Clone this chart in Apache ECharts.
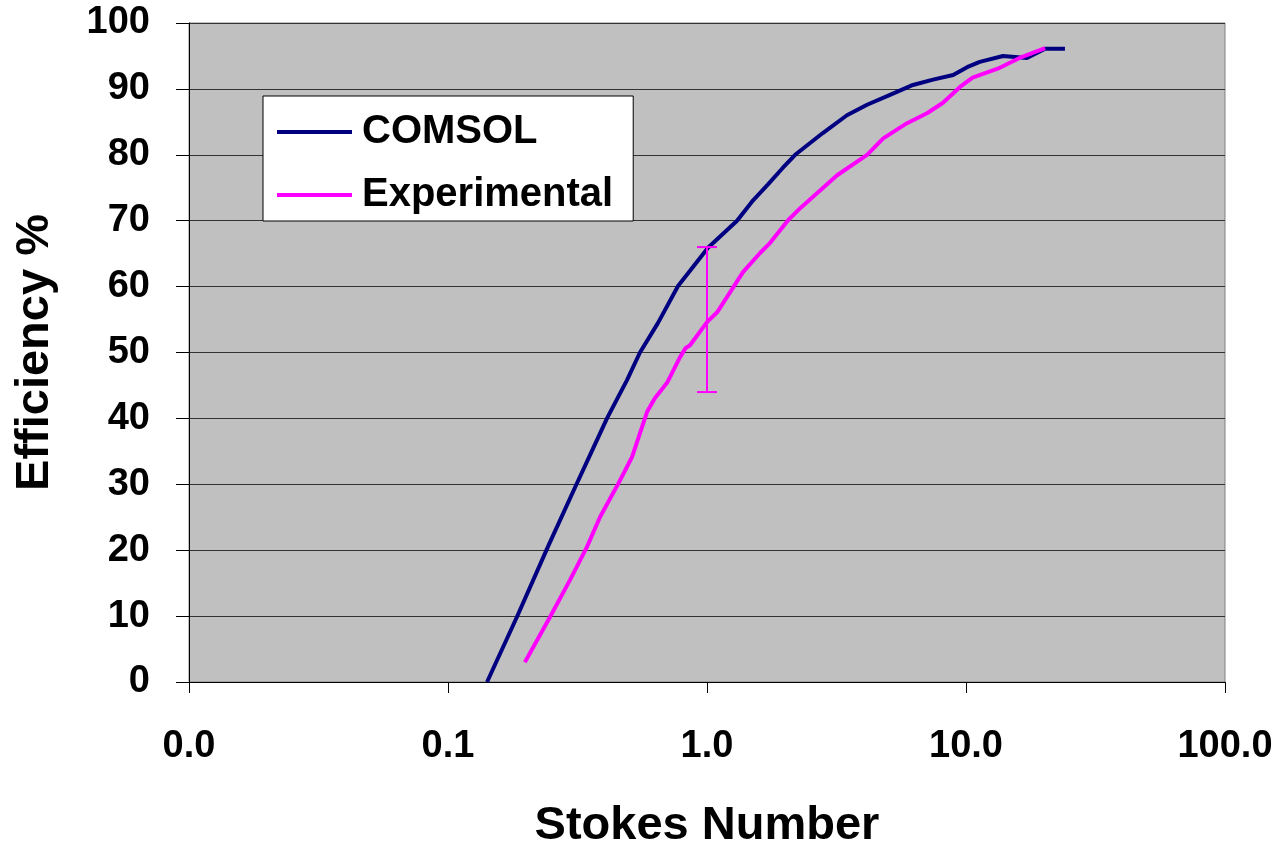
<!DOCTYPE html>
<html>
<head>
<meta charset="utf-8">
<script src="https://cdn.jsdelivr.net/npm/echarts@6/dist/echarts.min.js"></script>
<style>
html,body{margin:0;padding:0;background:#fff;}
#chart{width:1281px;height:847px;}
</style>
</head>
<body>
<div id="chart"></div>
<script>
// Data
const comsolX = [0.1415, 0.1847, 0.243, 0.315, 0.353, 0.411, 0.491, 0.551, 0.647, 0.773, 0.875, 1.009, 1.306, 1.507, 1.72, 1.96, 2.19, 2.80, 3.47, 4.15, 5.09, 6.24, 7.46, 8.92, 10.1, 11.3, 13.9, 17.2, 20.2, 24.1];
const comsolY = [0, 9.9, 20.5, 30.2, 34.4, 40.0, 45.8, 50.0, 54.5, 60.1, 62.8, 65.9, 70.0, 73.1, 75.5, 78.0, 80.0, 83.3, 86.0, 87.6, 89.1, 90.6, 91.4, 92.1, 93.3, 94.1, 95.0, 94.7, 96.1, 96.1];
const expX = [0.198, 0.248, 0.296, 0.344, 0.386, 0.453, 0.513, 0.587, 0.630, 0.701, 0.787, 0.828, 0.860, 1.0, 1.094, 1.194, 1.377, 1.602, 1.75, 2.06, 2.29, 3.18, 4.15, 4.79, 5.92, 7.07, 8.15, 9.48, 10.6, 13.5, 16.1, 20.2];
const expY = [3.0, 9.9, 15.5, 20.5, 25.0, 30.0, 34.1, 41.0, 43.1, 45.4, 49.3, 50.7, 51.1, 54.6, 56.1, 58.4, 62.2, 65.1, 66.6, 70.1, 71.9, 76.9, 80.0, 82.5, 84.8, 86.3, 87.9, 90.3, 91.7, 93.2, 94.7, 96.2];
const errX = [1.0];
const errLow = [44];
const errHigh = [66];
const seriesNames = ['COMSOL', 'Experimental'];
const xAxisTitle = 'Stokes Number';
const yAxisTitle = 'Efficiency %';

const FONT = '"Liberation Sans", Arial, sans-serif';
const zip = (a, b) => a.map((v, i) => [v, b[i]]);
const errData = errX.map((x, i) => [x, errLow[i], errHigh[i]]);

const chart = echarts.init(document.getElementById('chart'));
chart.setOption({
  animation: false,
  backgroundColor: '#ffffff',
  textStyle: { fontFamily: FONT },
  grid: {
    left: 189, right: 56, top: 23, bottom: 165,
    outerBoundsMode: 'none', containLabel: false,
    show: true, backgroundColor: '#C0C0C0', borderColor: '#808080', borderWidth: 1
  },
  legend: {
    data: seriesNames,
    left: 263, top: 96,
    orient: 'vertical',
    backgroundColor: '#ffffff',
    borderColor: '#000000', borderWidth: 1,
    padding: [16, 20, 6, 14],
    itemGap: 23,
    itemWidth: 75, itemHeight: 4,
    icon: 'rect',
    textStyle: { fontFamily: FONT, fontSize: 40, fontWeight: 'bold', color: '#000', lineHeight: 40, padding: [0, 0, 0, 5] }
  },
  xAxis: {
    type: 'log', logBase: 10, min: 0.01, max: 100,
    name: xAxisTitle, nameLocation: 'middle', nameGap: 121,
    nameTextStyle: { fontFamily: FONT, fontSize: 47, fontWeight: 'bold', color: '#000', lineHeight: 47 },
    axisLine: { show: true, lineStyle: { color: '#000', width: 1 } },
    axisTick: { show: true, inside: false, length: 11, lineStyle: { color: '#000' } },
    minorTick: { show: false },
    splitLine: { show: false },
    axisLabel: {
      fontFamily: FONT, fontSize: 38, fontWeight: 'bold', color: '#000', margin: 46, lineHeight: 38,
      formatter: v => Number(v).toFixed(1)
    }
  },
  yAxis: {
    type: 'value', min: 0, max: 100, interval: 10,
    name: yAxisTitle, nameLocation: 'middle', nameGap: 130,
    nameTextStyle: { fontFamily: FONT, fontSize: 47, fontWeight: 'bold', color: '#000', lineHeight: 47 },
    axisLine: { show: true, lineStyle: { color: '#000', width: 1 } },
    axisTick: { show: true, inside: false, length: 13, lineStyle: { color: '#000' } },
    splitLine: { show: true, lineStyle: { color: '#333', width: 1 } },
    axisLabel: { fontFamily: FONT, fontSize: 38, fontWeight: 'bold', color: '#000', margin: 39 }
  },
  series: [
    {
      name: seriesNames[0], type: 'line', data: zip(comsolX, comsolY),
      showSymbol: false, symbol: 'none',
      lineStyle: { color: '#000080', width: 4 }, itemStyle: { color: '#000080' }, z: 3
    },
    {
      name: seriesNames[1], type: 'line', data: zip(expX, expY),
      showSymbol: false, symbol: 'none',
      lineStyle: { color: '#FF00FF', width: 4 }, itemStyle: { color: '#FF00FF' }, z: 4
    },
    {
      name: 'error', type: 'custom', data: errData,
      encode: { x: 0, y: [1, 2] },
      z: 5,
      renderItem: function (params, api) {
        const x = api.value(0);
        const lo = api.coord([x, api.value(1)]);
        const hi = api.coord([x, api.value(2)]);
        const hw = 10;
        const style = { stroke: '#FF00FF', lineWidth: 2 };
        return {
          type: 'group',
          children: [
            { type: 'line', shape: { x1: lo[0], y1: lo[1], x2: hi[0], y2: hi[1] }, style },
            { type: 'line', shape: { x1: lo[0] - hw, y1: lo[1], x2: lo[0] + hw, y2: lo[1] }, style },
            { type: 'line', shape: { x1: hi[0] - hw, y1: hi[1], x2: hi[0] + hw, y2: hi[1] }, style }
          ]
        };
      }
    }
  ]
});
</script>
</body>
</html>
